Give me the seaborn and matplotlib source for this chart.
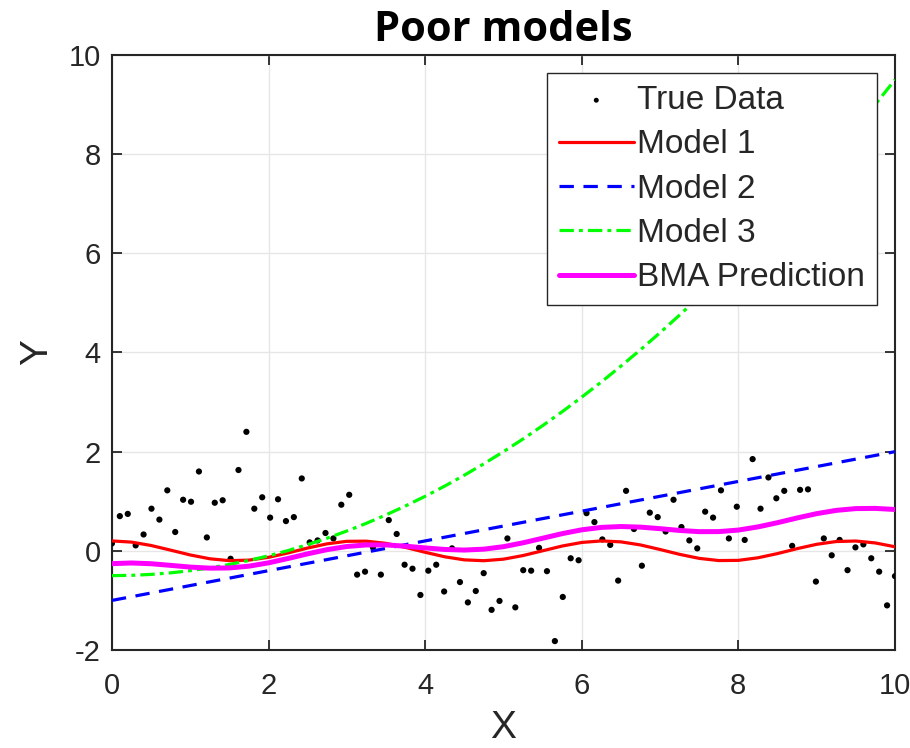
import numpy as np
import pandas as pd
import matplotlib
matplotlib.use("Agg")
import matplotlib.pyplot as plt
import seaborn as sns

# ---- data ----
data_x = np.linspace(0, 10, 100)
data_y = [0.15, 0.70, 0.745, 0.11, 0.33, 0.85, 0.63, 1.22, 0.38, 1.03,
          0.99, 1.60, 0.27, 0.97, 1.02, -0.16, 1.63, 2.40, 0.85, 1.08,
          0.67, 1.04, 0.60, 0.68, 1.46, 0.17, 0.21, 0.36, 0.25, 0.93,
          1.13, -0.48, -0.42, 0.07, -0.48, 0.62, 0.34, -0.28, -0.36, -0.89,
          -0.40, -0.28, -0.82, 0.05, -0.63, -1.04, -0.81, -0.45, -1.19, -1.01,
          0.25, -1.14, -0.39, -0.40, 0.06, -0.41, -1.82, -0.93, -0.15, -0.19,
          0.76, 0.58, 0.23, 0.12, -0.60, 1.21, 0.44, -0.30, 0.77, 0.68,
          0.39, 1.03, 0.48, 0.21, 0.05, 0.79, 0.67, 1.22, 0.25, 0.89,
          0.22, 1.85, 0.85, 1.48, 1.06, 1.21, 0.10, 1.23, 1.24, -0.62,
          0.25, -0.09, 0.22, -0.39, 0.07, 0.13, -0.15, -0.42, -1.10, -0.51]

curve_x = np.arange(41) * 0.25
model1 = [0.200, 0.176, 0.108, 0.014, -0.083, -0.160, -0.198, -0.187, -0.131, -0.042,
          0.057, 0.142, 0.192, 0.195, 0.151, 0.069, -0.029, -0.120, -0.182, -0.199,
          -0.168, -0.095, 0.001, 0.097, 0.169, 0.200, 0.181, 0.119, 0.027, -0.071,
          -0.152, -0.196, -0.192, -0.140, -0.055, 0.044, 0.132, 0.188, 0.198, 0.159, 0.082]
model2 = [-1.0, -0.925, -0.85, -0.775, -0.7, -0.625, -0.55, -0.475, -0.4, -0.325,
          -0.25, -0.175, -0.1, -0.025, 0.05, 0.125, 0.2, 0.275, 0.35, 0.425,
          0.5, 0.575, 0.65, 0.725, 0.8, 0.875, 0.95, 1.025, 1.1, 1.175,
          1.25, 1.325, 1.4, 1.475, 1.55, 1.625, 1.7, 1.775, 1.85, 1.925, 2.0]
model3 = [-0.5, -0.494, -0.475, -0.444, -0.4, -0.344, -0.275, -0.194, -0.1, 0.006,
          0.125, 0.256, 0.4, 0.556, 0.725, 0.906, 1.1, 1.306, 1.525, 1.756,
          2.0, 2.256, 2.525, 2.806, 3.1, 3.406, 3.725, 4.056, 4.4, 4.756,
          5.125, 5.506, 5.9, 6.306, 6.725, 7.156, 7.6, 8.056, 8.525, 9.006, 9.5]
bma = [-0.258, -0.245, -0.260, -0.293, -0.328, -0.349, -0.345, -0.309, -0.242, -0.154,
       -0.060, 0.025, 0.088, 0.119, 0.119, 0.094, 0.059, 0.028, 0.016, 0.034,
       0.084, 0.162, 0.254, 0.347, 0.424, 0.473, 0.490, 0.478, 0.447, 0.411,
       0.387, 0.388, 0.419, 0.483, 0.568, 0.663, 0.750, 0.816, 0.852, 0.856, 0.834]

x_ticks = [0, 2, 4, 6, 8, 10]
y_ticks = [-2, 0, 2, 4, 6, 8, 10]

# ---- style ----
sns.set_style("ticks")
plt.rcParams['font.family'] = ['Liberation Sans', 'DejaVu Sans']
plt.rcParams['xtick.direction'] = 'in'
plt.rcParams['ytick.direction'] = 'in'

fig = plt.figure(figsize=(9.1, 7.48), dpi=100)
ax = fig.add_axes([0.123, 0.131, 0.8605, 0.7955])

scat = pd.DataFrame({"x": data_x, "y": data_y})
sns.scatterplot(data=scat, x="x", y="y", ax=ax, color="black", s=20,
                edgecolor="none", label="True Data", zorder=3)

curves = pd.DataFrame({"x": curve_x, "m1": model1, "m2": model2,
                       "m3": model3, "bma": bma})
sns.lineplot(data=curves, x="x", y="m1", ax=ax, color="#ff0000", lw=2.3,
             label="Model 1", zorder=4)
sns.lineplot(data=curves, x="x", y="m2", ax=ax, color="#0000ff", lw=2.3,
             label="Model 2", zorder=4)
ax.lines[-1].set_dashes((4.5, 3.0))
sns.lineplot(data=curves, x="x", y="m3", ax=ax, color="#00ff00", lw=2.3,
             label="Model 3", zorder=4)
ax.lines[-1].set_dashes((4.5, 1.6, 1.2, 1.6))
sns.lineplot(data=curves, x="x", y="bma", ax=ax, color="#ff00ff", lw=3.6,
             label="BMA Prediction", zorder=5)

ax.set_xlim(0, 10)
ax.set_ylim(-2, 10)
ax.set_xticks(x_ticks)
ax.set_yticks(y_ticks)
ax.set_xticklabels([str(t) for t in x_ticks])
ax.set_yticklabels([str(t) for t in y_ticks])
ax.tick_params(axis='both', which='both', labelsize=21, colors='#262626',
               length=7, width=1.3, top=True, right=True)
ax.tick_params(axis='x', pad=16)
ax.tick_params(axis='y', pad=8)
for sp in ax.spines.values():
    sp.set_visible(True)
    sp.set_color('#262626')
    sp.set_linewidth(1.5)
ax.grid(True, color='#e6e6e6', lw=1.0)
ax.set_axisbelow(True)

ax.set_xlabel("X", fontsize=28, color='#262626', labelpad=7)
ax.set_ylabel("Y", fontsize=28, color='#262626', labelpad=10)
ax.set_title("Poor models", fontsize=30, fontweight='bold',
             family=['Open Sans', 'DejaVu Sans'], color='black', pad=10)

leg = ax.legend(loc='upper right', fontsize=24, frameon=True, fancybox=False,
                framealpha=1, edgecolor='#262626', handlelength=2.25,
                handletextpad=0.1, labelspacing=0.4, borderaxespad=0.55,
                borderpad=0.35, markerscale=0.8)
leg.get_frame().set_linewidth(1.0)

fig.savefig("out.png", dpi=100)
